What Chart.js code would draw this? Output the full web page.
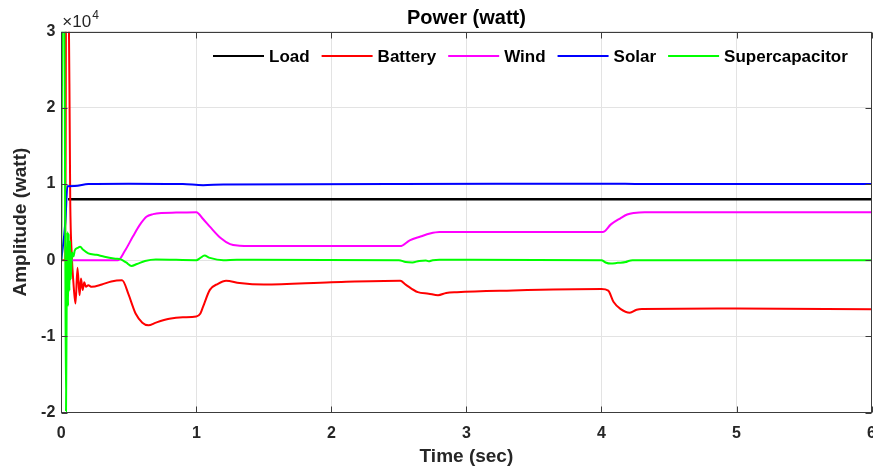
<!DOCTYPE html>
<html>
<head>
<meta charset="utf-8">
<script src="https://cdn.jsdelivr.net/npm/chart.js@4.4.1/dist/chart.umd.min.js"></script>
<style>
  html, body { margin: 0; padding: 0; background: #fff; overflow: hidden; }
  #wrap { position: relative; width: 887px; height: 470px; }
</style>
</head>
<body>
<div id="wrap"><canvas id="c"></canvas></div>
<script>
// ---- data (watts, time in seconds) ----
const seriesNames = ['Load', 'Battery', 'Wind', 'Solar', 'Supercapacitor'];
const xTicks = [0, 1, 2, 3, 4, 5, 6];
const yTicks = [-20000, -10000, 0, 10000, 20000, 30000];

const loadT = [0.05, 1, 2, 3, 4, 5, 6];
const loadW = [8000, 8000, 8000, 8000, 8000, 8000, 8000];

const batteryT = [0, 0.03, 0.036, 0.052, 0.066, 0.078, 0.09, 0.105, 0.12, 0.135, 0.146, 0.158, 0.17, 0.182, 0.2, 0.225, 0.3, 0.37, 0.45, 0.5, 0.53, 0.55, 0.6, 0.645, 0.7, 0.8, 0.9, 1.0, 1.03, 1.05, 1.1, 1.16, 1.22, 1.32, 1.5, 2.0, 2.51, 2.55, 2.64, 2.72, 2.79, 2.85, 2.93, 3.3, 4.0, 4.05, 4.09, 4.14, 4.21, 4.26, 4.3, 5.0, 6.0];
const batteryW = [0, 0, 40000, 40000, 8000, 500, -3000, -5700, -1000, -4600, -2400, -3900, -2900, -3500, -3300, -3500, -3200, -2800, -2650, -4600, -6100, -7000, -8200, -8550, -8200, -7700, -7500, -7400, -7000, -6100, -3900, -3100, -2700, -3000, -3200, -2900, -2700, -3200, -4200, -4400, -4600, -4300, -4200, -4000, -3800, -4000, -5500, -6400, -6900, -6500, -6400, -6350, -6450];

const windT = [0.05, 0.42, 0.47, 0.53, 0.58, 0.63, 0.68, 0.74, 0.85, 1.0, 1.05, 1.1, 1.18, 1.25, 1.32, 1.4, 2.51, 2.58, 2.66, 2.73, 2.8, 2.9, 4.01, 4.07, 4.14, 4.19, 4.24, 4.32, 6.0];
const windW = [0, 0, 1200, 3100, 4600, 5700, 6050, 6200, 6250, 6300, 5400, 4400, 2900, 2100, 1900, 1850, 1850, 2600, 3100, 3500, 3700, 3700, 3700, 4700, 5500, 6000, 6200, 6300, 6300];

const solarT = [0, 0.03, 0.045, 0.1, 0.2, 0.5, 0.9, 1.05, 1.2, 2.5, 4.05, 4.3, 6.0];
const solarW = [0, 5000, 9700, 9750, 10000, 10050, 10000, 9850, 9950, 10000, 10050, 10000, 10000];

const supercapT = [0, 0.008, 0.02, 0.028, 0.035, 0.04, 0.045, 0.05, 0.055, 0.06, 0.065, 0.07, 0.08, 0.09, 0.1, 0.12, 0.14, 0.16, 0.2, 0.26, 0.32, 0.4, 0.44, 0.48, 0.52, 0.56, 0.62, 0.7, 1.0, 1.03, 1.06, 1.1, 1.2, 1.3, 2.5, 2.55, 2.6, 2.65, 2.7, 2.72, 2.75, 2.8, 4.0, 4.03, 4.07, 4.12, 4.18, 4.2, 4.23, 4.3, 6.0];
const supercapW = [0, 35000, 40000, 10000, -19800, -5000, 3700, -6000, 3500, -4000, 2500, -2500, 1000, 500, 1300, 1600, 1750, 1400, 900, 700, 450, 200, 100, -300, -750, -500, -100, 100, 0, 300, 600, 300, 0, 50, 0, -250, -300, -100, -50, -150, 0, 50, 0, -300, -450, -350, -250, -100, 0, 0, 0];

const colors = ['#000000', '#ff0000', '#ff00ff', '#0000ff', '#00ff00'];
const allT = [loadT, batteryT, windT, solarT, supercapT];
const allW = [loadW, batteryW, windW, solarW, supercapW];

const FONT = "'Liberation Sans', Arial, Helvetica, sans-serif";
const TXT = '#262626';

const datasets = seriesNames.map((name, i) => ({
  label: name,
  data: allT[i].map((t, k) => ({ x: t, y: allW[i][k] })),
  borderColor: colors[i],
  backgroundColor: colors[i],
  borderWidth: i === 0 ? 2.5 : 2,
  pointRadius: 0,
  fill: false,
  cubicInterpolationMode: 'monotone',
  clip: 0,
  order: 5 - i
}));

const decor = {
  id: 'decor',
  afterDatasetsDraw(chart) {
    const { ctx, chartArea: a, scales: { x, y } } = chart;
    ctx.save();
    // frame
    const L = Math.round(a.left) + 0.5, R = Math.round(a.right) - 0.5;
    const T = Math.round(a.top) + 0.5, B = Math.round(a.bottom) - 0.5;
    ctx.strokeStyle = '#3c3c3c';
    ctx.lineWidth = 1;
    ctx.strokeRect(L, T, R - L, B - T);
    // inward tick marks
    const tl = 6;
    ctx.beginPath();
    xTicks.forEach(v => {
      const px = Math.round(x.getPixelForValue(v)) + 0.5;
      ctx.moveTo(px, B); ctx.lineTo(px, B - tl);
      ctx.moveTo(px, T); ctx.lineTo(px, T + tl);
    });
    yTicks.forEach(v => {
      const py = Math.round(y.getPixelForValue(v)) + 0.5;
      ctx.moveTo(L, py); ctx.lineTo(L + tl, py);
      ctx.moveTo(R, py); ctx.lineTo(R - tl, py);
    });
    ctx.stroke();

    // legend
    ctx.font = 'bold 17px ' + FONT;
    ctx.textBaseline = 'middle';
    ctx.textAlign = 'left';
    let xs = 213;
    const ly = 56;
    chart.data.datasets.forEach(ds => {
      ctx.strokeStyle = ds.borderColor;
      ctx.lineWidth = 2;
      ctx.beginPath();
      ctx.moveTo(xs, ly); ctx.lineTo(xs + 51, ly);
      ctx.stroke();
      ctx.fillStyle = '#000';
      ctx.fillText(ds.label, xs + 56, ly + 1);
      xs += 56 + ctx.measureText(ds.label).width + 12;
    });

    // title
    ctx.font = 'bold 20px ' + FONT;
    ctx.textAlign = 'center';
    ctx.fillStyle = '#000';
    ctx.fillText('Power (watt)', (a.left + a.right) / 2, 18);

    // exponent label
    ctx.textAlign = 'left';
    ctx.textBaseline = 'alphabetic';
    ctx.fillStyle = TXT;
    ctx.font = '17px ' + FONT;
    ctx.fillText('\u00d710', a.left + 1, 27);
    const w = ctx.measureText('\u00d710').width;
    ctx.font = '12px ' + FONT;
    ctx.fillText('4', a.left + 1 + w + 1, 19);
    ctx.restore();
  }
};

new Chart(document.getElementById('c'), {
  type: 'line',
  data: { datasets },
  options: {
    responsive: true,
    maintainAspectRatio: false,
    animation: false,
    layout: { padding: { top: 31.7, left: 0, right: 0, bottom: 0 } },
    plugins: {
      legend: { display: false },
      title: { display: false },
      tooltip: { enabled: false }
    },
    scales: {
      x: {
        type: 'linear',
        min: 0, max: 6,
        afterBuildTicks: s => { s.ticks = xTicks.map(v => ({ value: v })); },
        ticks: {
          padding: 11,
          maxRotation: 0,
          color: TXT,
          font: { family: FONT, size: 16, weight: 'bold' },
          callback: v => String(v)
        },
        grid: { color: '#e3e3e3', drawTicks: false, lineWidth: 1 },
        border: { display: false },
        title: {
          display: true,
          text: 'Time (sec)',
          color: TXT,
          font: { family: FONT, size: 19, weight: 'bold' },
          padding: { top: 0, bottom: 2 }
        },
        afterFit: s => { s.height = 57.5; }
      },
      y: {
        type: 'linear',
        min: -20000, max: 30000,
        afterBuildTicks: s => { s.ticks = yTicks.map(v => ({ value: v })); },
        ticks: {
          padding: 6,
          color: TXT,
          font: { family: FONT, size: 16, weight: 'bold' },
          callback: v => String(v / 10000)
        },
        grid: { color: '#e3e3e3', drawTicks: false, lineWidth: 1 },
        border: { display: false },
        title: {
          display: true,
          text: 'Amplitude (watt)',
          color: TXT,
          font: { family: FONT, size: 19, weight: 'bold' },
          padding: { top: 9, bottom: 0 }
        },
        afterFit: s => { s.width = 61.3; }
      }
    }
  },
  plugins: [decor]
});
</script>
</body>
</html>
